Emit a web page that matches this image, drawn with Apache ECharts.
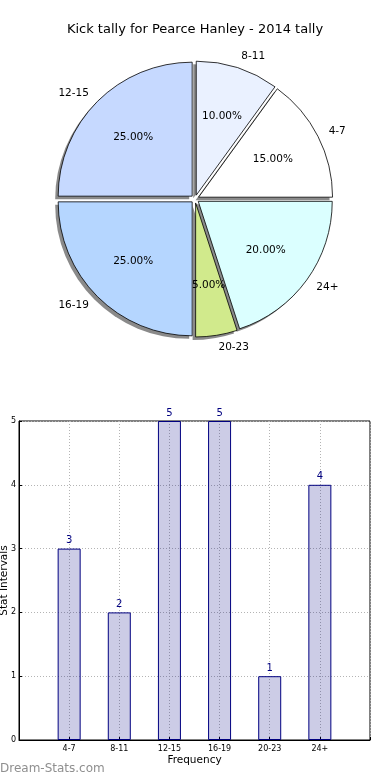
<!DOCTYPE html>
<html><head><meta charset="utf-8">
<script src="https://cdn.jsdelivr.net/npm/echarts@6/dist/echarts.min.js"></script>
<style>html,body{margin:0;padding:0;background:#fff}#c{width:390px;height:780px}</style>
</head><body><div id="c"></div>
<script>
const categories = ['4-7', '8-11', '12-15', '16-19', '20-23', '24+'];
const values = [3, 2, 5, 5, 1, 4];
const sliceColors = ['#ffffff', '#eaf1ff', '#c6d9ff', '#b5d6ff', '#d1ea8c', '#dbffff'];
const yTicks = [0, 1, 2, 3, 4, 5];

const FONT = 'DejaVu Sans';
const R = 134;
const CX = 195, CY = 199;

const pieData = categories.map((c, i) => ({
  name: c, value: values[i], selected: true,
  itemStyle: { color: sliceColors[i] }
}));
const plainData = categories.map((c, i) => ({ name: c, value: values[i], selected: true }));

const chart = echarts.init(document.getElementById('c'), null, { renderer: 'canvas' });
chart.setOption({
  animation: false,
  backgroundColor: '#fff',
  title: [
    { text: 'Kick tally for Pearce Hanley - 2014 tally', left: 'center', top: 23, padding: 0,
      textStyle: { fontFamily: FONT, fontSize: 13, fontWeight: 'normal', color: '#000' } },
    { text: 'Dream-Stats.com', left: 0, top: 763, padding: 0,
      textStyle: { fontFamily: FONT, fontSize: 12, fontWeight: 'normal', color: '#8f8f8f' } }
  ],
  grid: { left: 19, top: 421, width: 351, height: 319, outerBoundsMode: 'none', containLabel: false,
    show: true, borderColor: '#000', borderWidth: 1, backgroundColor: 'transparent' },
  xAxis: {
    type: 'value', min: 0, max: 7, interval: 1,
    name: 'Frequency', nameLocation: 'middle', nameGap: 15, nameMoveOverlap: false,
    nameTextStyle: { fontFamily: FONT, fontSize: 10.5, color: '#000' },
    axisLine: { show: true, lineStyle: { color: '#000' } },
    axisTick: { show: true, inside: true, length: 3, lineStyle: { color: '#000' } },
    axisLabel: { fontFamily: FONT, fontSize: 8, color: '#000', margin: 5,
      formatter: v => categories[v - 1] || '' },
    splitLine: { show: true, lineStyle: { color: '#b4b4b4', type: [1, 2], width: 1 } }
  },
  yAxis: {
    type: 'value', min: 0, max: 5, interval: 1,
    name: 'Stat Intervals', nameLocation: 'middle', nameGap: 9, nameMoveOverlap: false,
    nameTextStyle: { fontFamily: FONT, fontSize: 10.5, color: '#000' },
    axisLine: { show: true, lineStyle: { color: '#000' } },
    axisTick: { show: true, inside: true, length: 3, lineStyle: { color: '#000' } },
    axisLabel: { fontFamily: FONT, fontSize: 8, color: '#000', margin: 3,
      formatter: v => yTicks.includes(v) ? String(v) : '' },
    splitLine: { show: true, lineStyle: { color: '#b4b4b4', type: [1, 2], width: 1 } }
  },
  series: [
    {
      type: 'pie', center: [CX - 3, CY + 3], radius: [0, R], startAngle: 0, clockwise: false,
      selectedMode: 'multiple', selectedOffset: 4, silent: true, z: 1,
      data: plainData,
      itemStyle: { color: '#8a8a8a', borderWidth: 0 },
      label: { show: false }, labelLine: { show: false },
      emphasis: { disabled: true }
    },
    {
      type: 'pie', center: [CX, CY], radius: [0, R], startAngle: 0, clockwise: false,
      selectedMode: 'multiple', selectedOffset: 4, silent: true, z: 2,
      data: pieData,
      itemStyle: { borderColor: '#000', borderWidth: 0.8 },
      label: { show: true, position: 'outside', fontFamily: FONT, fontSize: 10.5, color: '#000', distanceToLabelLine: 0 },
      labelLine: { show: false, length: 12, length2: 0 },
      emphasis: { disabled: true }
    },
    {
      type: 'pie', center: [CX, CY], radius: [0.2 * R, R], startAngle: 0, clockwise: false,
      selectedMode: 'multiple', selectedOffset: 4, silent: true, z: 5,
      data: plainData,
      itemStyle: { color: 'transparent', borderWidth: 0 },
      label: { show: true, position: 'inside', fontFamily: FONT, fontSize: 10.5, color: '#000',
        formatter: p => p.percent.toFixed(2) + '%' },
      labelLine: { show: false },
      emphasis: { disabled: true }
    },
    {
      type: 'bar', silent: true,
      data: values.map((v, i) => [i + 1, v]),
      barWidth: 23,
      itemStyle: { color: 'rgba(0,0,128,0.2)', borderColor: '#000080', borderWidth: 1 },
      label: { show: true, position: 'top', distance: 3, fontFamily: FONT, fontSize: 10, color: '#000080' },
      z: 1
    }
  ]
});
</script></body></html>
